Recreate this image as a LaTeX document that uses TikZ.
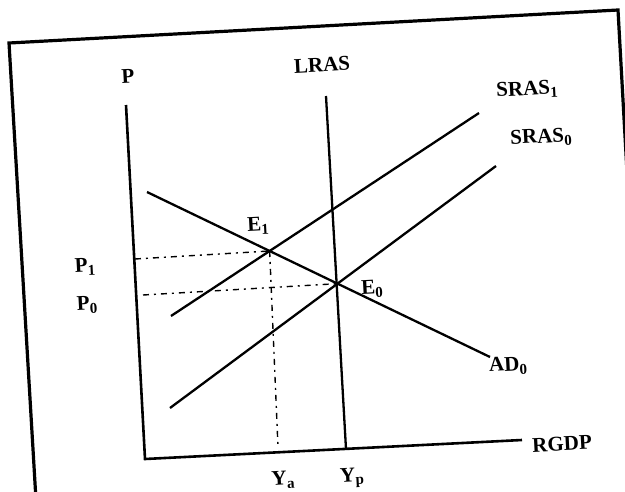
\documentclass[tikz,border=0pt]{standalone}
\usepackage{fontspec}
\setmainfont{Liberation Serif}
\usetikzlibrary{calc}
\newcommand{\lsub}[1]{\raisebox{-0.18em}{\fontsize{15}{15}\selectfont #1}}
\begin{document}
\begin{tikzpicture}[x=1pt,y=-1pt,
  frame/.style={line width=3.2pt},
  axisline/.style={line width=2.6pt},
  curve/.style={line width=2.3pt},
  guide/.style={line width=1.4pt, dash pattern=on 6pt off 5pt on 2pt off 5pt},
  lab/.style={font=\fontsize{21}{23}\selectfont\bfseries, rotate=3, inner sep=0pt}]
\useasboundingbox (0,0) rectangle (625,491);
\clip (0,0) rectangle (625,491);
\fill[white] (0,0) rectangle (625,491);

% frame (scan border)
\coordinate (fbl) at (36,500);
\coordinate (ftl) at (9,43);
\coordinate (ftr) at (618,10);
\coordinate (fbr) at (628,190);
\draw[frame, line join=miter] (fbl) -- (ftl) -- (ftr) -- (fbr);

% axes
\coordinate (ptop) at (126,105);
\coordinate (origin) at (145,459);
\coordinate (xend) at (522,440);
\draw[axisline, line join=miter] (ptop) -- (origin) -- (xend);

% LRAS
\coordinate (ltop) at (326,96);
\coordinate (lbot) at (346,449);
\draw[curve] (ltop) -- (lbot);

% AD0
\coordinate (adA) at (147,192);
\coordinate (adB) at (490,357);
\draw[curve] (adA) -- (adB);

% SRAS1
\coordinate (s1A) at (171,316);
\coordinate (s1B) at (479,113);
\draw[curve] (s1A) -- (s1B);

% SRAS0
\coordinate (s0A) at (170,408);
\coordinate (s0B) at (496,166);
\draw[curve] (s0A) -- (s0B);

% equilibria
\coordinate (E1) at (intersection of adA--adB and s1A--s1B);
\coordinate (E0) at (intersection of adA--adB and s0A--s0B);

% guide lines
\coordinate (p1ax) at (135,259);
\coordinate (p0ax) at (143,295);
\coordinate (yafoot) at (278,447);
\draw[guide] (p1ax) -- (E1);
\draw[guide] (p0ax) -- (E0);
\draw[guide] (E1) -- (yafoot);

% labels
\node[lab] (lP) at (128,76) {P};
\node[lab] (lLRAS) at (322,65) {LRAS};
\node[lab] (lS1) at (527,90) {SRAS\lsub{1}};
\node[lab] (lS0) at (541,138) {SRAS\lsub{0}};
\node[lab] (lE1) at (258,226) {E\lsub{1}};
\node[lab] (lE0) at (372,289) {E\lsub{0}};
\node[lab] (lP1) at (85,267) {P\lsub{1}};
\node[lab] (lP0) at (87,305) {P\lsub{0}};
\node[lab] (lAD) at (508,366) {AD\lsub{0}};
\node[lab] (lRGDP) at (562,444) {RGDP};
\node[lab] (lYa) at (283,480) {Y\lsub{a}};
\node[lab] (lYp) at (352,478) {Y\lsub{p}};
\end{tikzpicture}
\end{document}
